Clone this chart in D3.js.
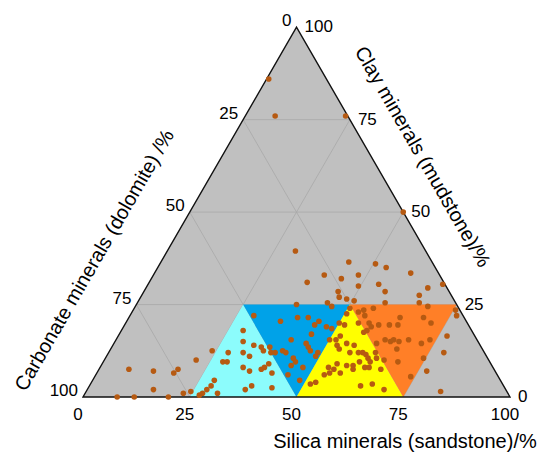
<!DOCTYPE html>
<html>
<head>
<meta charset="utf-8">
<script src="https://cdn.jsdelivr.net/npm/d3@7"></script>
<style>
  body { margin: 0; background: #fff; }
  text { font-family: "Liberation Sans", Arial, sans-serif; fill: #000; }
</style>
</head>
<body>
<svg id="chart" width="539" height="455"></svg>
<script>
// Sample compositions (%): silica, clay; carbonate is the remainder
const silica = [
  0.5, 7, 23.5, 30, 44, 50.5, 53.5, 40, 48, 60, 44.5, 37, 54, 49.5, 66, 69, 45.5, 56.5, 46.5, 48.5,
  50.5, 58, 65, 66, 68.5, 44.5, 46, 37.5, 50.5, 54, 56, 50, 29, 36, 39.5, 42, 45, 44.5, 47.5, 49,
  50, 51.5, 50.5, 28.5, 45, 41, 30, 33, 35, 36, 37, 38, 39, 40.5, 41.5, 45, 46, 47, 49, 50,
  51.5, 52, 52.5, 53.5, 54.5, 31.5, 33.5, 33.5, 35.5, 38, 38.5, 39, 41, 44, 45, 44.5, 47.5, 45, 48.5, 49,
  53.5, 55, 54.5, 53.5, 55, 57, 57.5, 52.5, 51.5, 37, 38, 43, 28, 28, 29, 28.5, 28.5, 28, 27.5, 27,
  31, 7, 13, 18, 18.5, 21.5, 24, 15.5, 23, 24.5, 20, 12, 8, 53, 55, 57, 58, 57.5, 59.5, 62,
  64, 63.5, 69, 71.5, 63, 64.5, 65, 66.5, 68.5, 72, 73.5, 61.5, 67, 74.5, 65.5, 69, 74, 75.5, 76.5, 77,
  78.5, 77, 83, 54.5, 57, 56.5, 56.5, 58.5, 59.5, 60.5, 61.5, 62.5, 62.5, 63.5, 60, 59, 62, 63, 66, 59.5,
  63.5, 66, 69.5
];
const clay = [
  86, 76, 76, 39.5, 36.5, 36, 35, 33, 33, 33.5, 32, 31, 30.5, 30, 29.5, 30.5, 28.5, 28.5, 27, 26.5,
  26, 25.5, 27.5, 25.5, 24.5, 25.5, 24.5, 25, 24, 23.5, 24, 50, 22, 20.5, 21.5, 21.5, 20.5, 19.5, 19, 18.5,
  20, 19.5, 22.5, 18, 17, 15.5, 15, 14, 13.5, 12.5, 13.5, 12, 12, 12.5, 12, 14.5, 13.5, 12.5, 12, 15.5,
  15.5, 16.5, 14, 13, 14.5, 12, 11, 8, 7, 7.5, 8, 9, 6.5, 10.5, 9.5, 8.5, 8, 6, 4.5, 11,
  8, 7.5, 6.5, 6, 9, 6.5, 8.5, 4, 3.5, 2, 3, 2.5, 12, 9.5, 9.5, 4.5, 3, 2, 1, 0.5,
  1, 7.5, 7, 6.5, 7.5, 10, 12.5, 2, 1, 1.5, 0, 0, 0, 23, 22, 20, 19, 18, 19.5, 19.5,
  19.5, 21.5, 21.5, 20, 15.5, 15, 15.5, 15, 15.5, 14.5, 15.5, 14.5, 13, 10.5, 10, 9.5, 5.5, 23.5, 22, 16.5,
  12, 7, 1.5, 20, 17.5, 14, 12, 12, 12, 11.5, 10.5, 9.5, 12, 10.5, 9.5, 8.5, 8, 8, 7.5, 7.5,
  3, 3.5, 2
];
const carbonate = silica.map((s, i) => 100 - s - clay[i]);

// Axis tick values and grid levels (%)
const tickValues = [0, 25, 50, 75, 100];
const gridValues = [25, 50, 75];

// Lithofacies fields as [silica, clay] vertices
const zoneVertices = [
  [[25, 0], [50, 0], [25, 25]],
  [[25, 25], [50, 25], [50, 0]],
  [[50, 0], [75, 0], [50, 25]],
  [[50, 25], [75, 25], [75, 0]]
];
const zoneColors = ["#8cfcfc", "#00a2e8", "#ffff00", "#ff7f27"];

const svg = d3.select("#chart");

// Ternary projection: horizontal position follows silica + clay/2, height follows clay
const left = 83, right = 510, base = 397;
const side = right - left;
const x = d3.scaleLinear().domain([0, 100]).range([left, right]);
const y = d3.scaleLinear().domain([0, 100]).range([base, base - side * Math.sqrt(3) / 2]);
const pt = (s, c) => [x(s + c / 2), y(c)];
const line = d3.line();

// Triangle background
const corners = [pt(0, 0), pt(100, 0), pt(0, 100)];
svg.append("path")
  .attr("d", line(corners) + "Z")
  .attr("fill", "#c0c0c0");

// Grid lines for each of the three components
const grid = svg.append("g")
  .attr("stroke", "#a8a8a8")
  .attr("stroke-width", 0.8)
  .attr("fill", "none");
gridValues.forEach(v => {
  grid.append("path").attr("d", line([pt(0, v), pt(100 - v, v)]));          // clay = v
  grid.append("path").attr("d", line([pt(v, 0), pt(v, 100 - v)]));          // silica = v
  grid.append("path").attr("d", line([pt(100 - v, 0), pt(0, 100 - v)]));    // carbonate = v
});

// Coloured fields
svg.append("g").selectAll("path")
  .data(zoneVertices)
  .join("path")
  .attr("d", d => line(d.map(([s, c]) => pt(s, c))) + "Z")
  .attr("fill", (d, i) => zoneColors[i]);

// Triangle outline
svg.append("path")
  .attr("d", line(corners) + "Z")
  .attr("fill", "none")
  .attr("stroke", "#111")
  .attr("stroke-width", 1.4)
  .attr("stroke-linejoin", "miter");

// Samples
svg.append("g").selectAll("circle")
  .data(silica.map((s, i) => ({ s, c: clay[i], k: carbonate[i] })))
  .join("circle")
  .attr("cx", d => pt(d.s, d.c)[0])
  .attr("cy", d => pt(d.s, d.c)[1])
  .attr("r", 2.8)
  .attr("fill", "#b65a12");

// Tick labels
const tickFont = 17;
const ticks = svg.append("g").attr("font-size", tickFont);
tickValues.forEach(v => {
  // silica along the base
  const [bx, by] = pt(v, 0);
  ticks.append("text")
    .attr("x", bx - 5).attr("y", by + 17).attr("dy", "0.35em")
    .attr("text-anchor", "middle").text(v);
  // carbonate along the left side
  const [lx, ly] = pt(0, 100 - v);
  ticks.append("text")
    .attr("x", lx - 5).attr("y", ly - 7).attr("dy", "0.35em")
    .attr("text-anchor", "end").text(v);
  // clay along the right side
  const [rx, ry] = pt(100 - v, v);
  ticks.append("text")
    .attr("x", rx + 8).attr("y", ry - 1).attr("dy", "0.35em")
    .attr("text-anchor", "start").text(v);
});

// Axis titles
const titleFont = 20;
svg.append("text")
  .attr("x", 405).attr("y", 441).attr("dy", "0.35em")
  .attr("text-anchor", "middle").attr("font-size", titleFont)
  .text("Silica minerals (sandstone)/%");
svg.append("text")
  .attr("transform", "translate(94,260) rotate(-60)")
  .attr("dy", "0.35em")
  .attr("text-anchor", "middle").attr("font-size", titleFont)
  .text("Carbonate minerals (dolomite) /%");
svg.append("text")
  .attr("transform", "translate(423,156.5) rotate(60)")
  .attr("dy", "0.35em")
  .attr("text-anchor", "middle").attr("font-size", titleFont)
  .text("Clay minerals (mudstone)/%");
</script>
</body>
</html>
